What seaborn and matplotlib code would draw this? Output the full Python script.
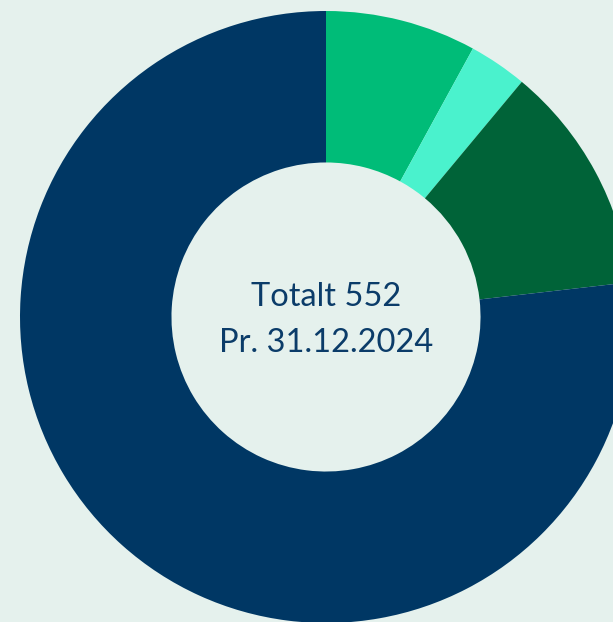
import matplotlib
matplotlib.use("Agg")
import matplotlib.pyplot as plt
import seaborn as sns

# Data (total 552)
categories = ["Kategori A", "Kategori B", "Kategori C", "Kategori D"]
values = [44, 17, 67, 424]
colors = ["#00BC78", "#4AF2CD", "#006338", "#003764"]
total_label = "Totalt 552"
date_label = "Pr. 31.12.2024"

sns.set_theme(style="white")
plt.rcParams['font.family'] = ['Lato', 'DejaVu Sans']

bg = "#e5f1ed"
fig = plt.figure(figsize=(6.13, 6.22), dpi=100, facecolor=bg)
ax = fig.add_axes([0, 0, 1, 1])
ax.set_facecolor(bg)

wedges, _ = ax.pie(values, colors=colors, startangle=90, counterclock=False,
                   radius=1.0, wedgeprops=dict(width=0.495, edgecolor="none"))

ax.text(0, 0.065, total_label, ha="center", va="center", fontsize=23.5, color="#0b3c69")
ax.text(0, -0.085, date_label, ha="center", va="center", fontsize=23.5, color="#0b3c69")

# place the pie centre at (326, 317) px with radius ~306 px
r = 306.0
ax.set_xlim(-326 / r, (613 - 326) / r)
ax.set_ylim(-(622 - 317) / r, 317 / r)
ax.set_aspect("auto")
ax.axis("off")

fig.savefig("out.png", dpi=100, facecolor=bg)
